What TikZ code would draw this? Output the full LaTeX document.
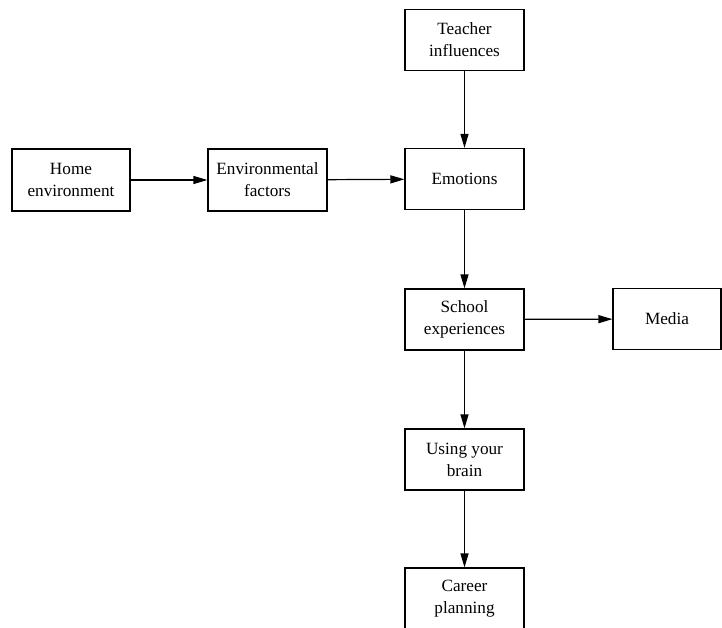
\documentclass[tikz,border=0pt]{standalone}
\usepackage{fontspec}
\setmainfont{LiberationSerif}[Extension=.ttf,UprightFont=*-Regular,BoldFont=*-Bold]
\usetikzlibrary{arrows.meta}
\begin{document}
\begin{tikzpicture}[x=1pt,y=-1pt,
  box/.style={draw=black,line width=1.2pt,rectangle,minimum width=119pt,minimum height=61pt,
    inner sep=0pt,align=center,font=\fontsize{17.2}{22}\selectfont},
  link/.style={line width=1.2pt,-{Triangle[length=14pt,width=8pt]}}]
\useasboundingbox (0,0) rectangle (722,628);
\clip (0,0) rectangle (722,628);
\node[box] (teacher) at (464.5,40) {Teacher\\influences};
\node[box,minimum width=118pt,minimum height=62pt] (home) at (71,180) {Home\\environment};
\node[box,minimum height=62pt] (env) at (267.5,180) {Environmental\\factors};
\node[box] (emo) at (464.5,179) {Emotions};
\node[box] (school) at (464.5,319.5) {School\\experiences};
\node[box,minimum width=108pt] (media) at (667,319) {Media};
\node[box] (brain) at (464.5,459.5) {Using your\\brain};
\node[box] (career) at (464.5,598.5) {Career\\planning};
\draw[link] (teacher) -- (emo);
\draw[link] (home) -- (env);
\draw[link] (env) -- (emo);
\draw[link] (emo) -- (school);
\draw[link] (school) -- (media);
\draw[link] (school) -- (brain);
\draw[link] (brain) -- (career);
\end{tikzpicture}
\end{document}
